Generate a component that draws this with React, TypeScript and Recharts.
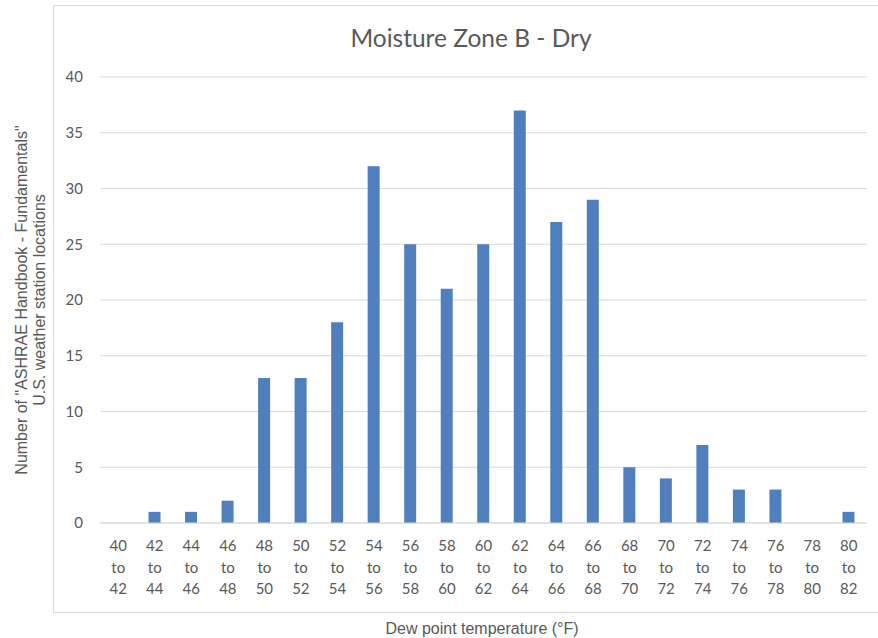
import React from 'react';
import { BarChart, Bar, XAxis, YAxis, CartesianGrid } from 'recharts';

const dewPointRanges = [
  '40 to 42', '42 to 44', '44 to 46', '46 to 48', '48 to 50', '50 to 52', '52 to 54',
  '54 to 56', '56 to 58', '58 to 60', '60 to 62', '62 to 64', '64 to 66', '66 to 68',
  '68 to 70', '70 to 72', '72 to 74', '74 to 76', '76 to 78', '78 to 80', '80 to 82',
];
const stationCounts = [0, 1, 1, 2, 13, 13, 18, 32, 25, 21, 25, 37, 27, 29, 5, 4, 7, 3, 3, 0, 1];
const yTicks = [0, 5, 10, 15, 20, 25, 30, 35, 40];

const data = dewPointRanges.map((range, i) => ({ range, count: stationCounts[i] }));

const GRAY = '#595959';
const LABEL_FONT = 'Lato, "Open Sans", sans-serif';
const TITLE_FONT = '"Liberation Sans", Arial, sans-serif';

const RangeTick = (props: any) => {
  const { x, y, payload } = props;
  const parts = String(payload.value).split(' ');
  return (
    <text x={x} y={y} textAnchor="middle" fill={GRAY} fontSize={15} fontFamily={LABEL_FONT}>
      {parts.map((p, i) => (
        <tspan key={i} x={x} dy={i === 0 ? 20 : 21.5}>
          {p}
        </tspan>
      ))}
    </text>
  );
};

export default function App() {
  return (
    <div style={{ position: 'absolute', left: 0, top: 0, width: 878, height: 638, background: '#fff', overflow: 'hidden' }}>
      <div
        style={{
          position: 'absolute', left: 53, top: 5, width: 840, height: 606,
          border: '1px solid #d9d9d9',
        }}
      />
      <div
        style={{
          position: 'absolute', left: 0, top: 0,
        }}
      >
        <BarChart
          width={878}
          height={638}
          data={data}
          margin={{ top: 77, right: 11, bottom: 35, left: 60 }}
          barCategoryGap={0}
        >
          <CartesianGrid vertical={false} stroke="#d9d9d9" />
          <XAxis
            dataKey="range"
            interval={0}
            height={80}
            tick={<RangeTick />}
            tickLine={false}
            axisLine={{ stroke: '#d9d9d9' }}
          />
          <YAxis
            width={40}
            domain={[0, 40]}
            ticks={yTicks}
            tickLine={false}
            axisLine={false}
            tickSize={6}
            tickMargin={11}
            tick={{ fontSize: 15, fill: GRAY, fontFamily: LABEL_FONT }}
          />
          <Bar dataKey="count" fill="#4f80bd" barSize={12} isAnimationActive={false} />
        </BarChart>
      </div>
      <div
        style={{
          position: 'absolute', left: 471, top: 37, transform: 'translate(-50%, -50%)',
          fontFamily: LABEL_FONT, fontSize: 24.5, color: GRAY, whiteSpace: 'nowrap',
        }}
      >
        Moisture Zone B - Dry
      </div>
      <div
        style={{
          position: 'absolute', left: 31, top: 300, width: 500,
          transform: 'translate(-50%, -50%) rotate(-90deg)',
          fontFamily: TITLE_FONT, fontSize: 16, lineHeight: '18px', color: GRAY,
          textAlign: 'center', whiteSpace: 'nowrap',
        }}
      >
        <div>Number of "ASHRAE Handbook - Fundamentals"</div>
        <div>U.S. weather station locations</div>
      </div>
      <div
        style={{
          position: 'absolute', left: 482, top: 629, transform: 'translate(-50%, -50%)',
          fontFamily: TITLE_FONT, fontSize: 16, color: GRAY, whiteSpace: 'nowrap',
        }}
      >
        Dew point temperature (°F)
      </div>
    </div>
  );
}
